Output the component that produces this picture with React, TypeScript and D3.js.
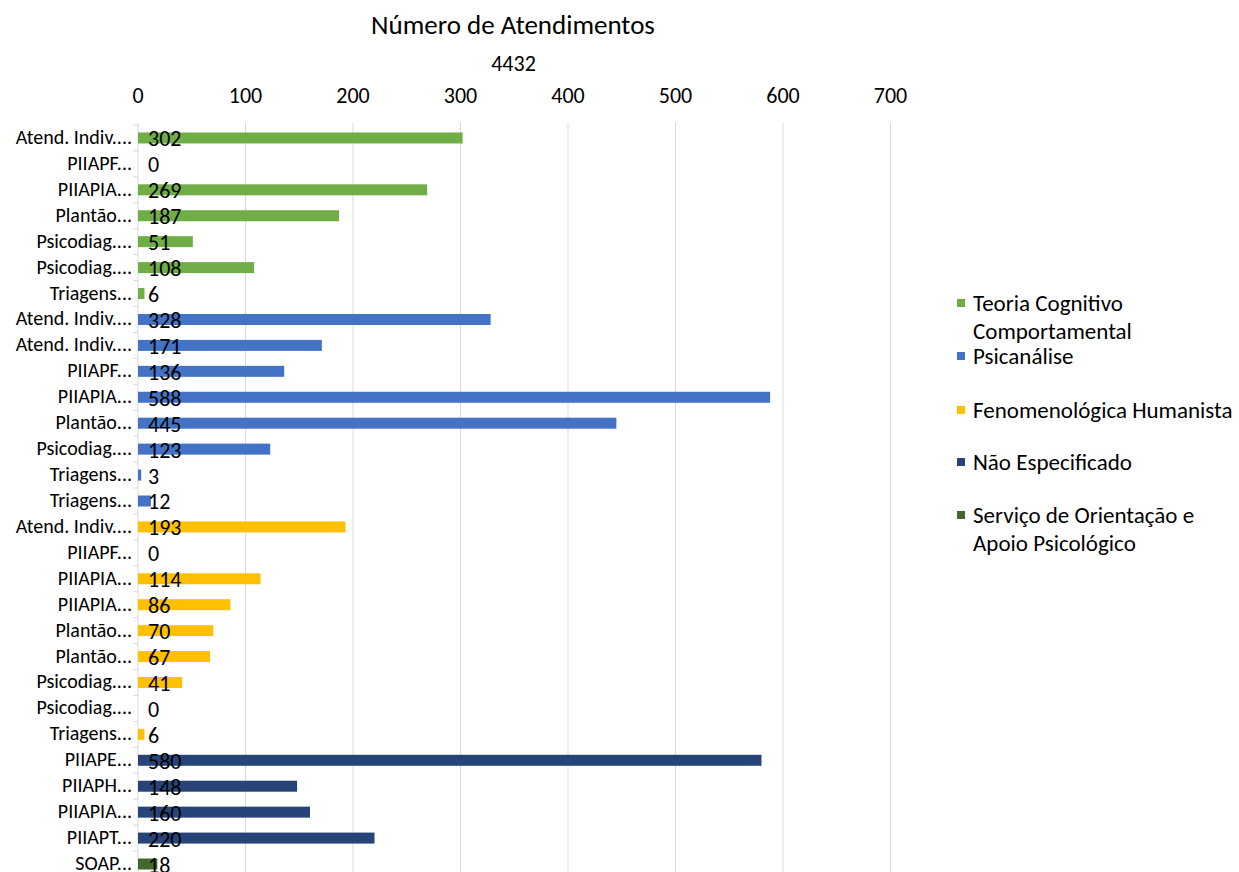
import React from "react";
import * as d3 from "d3";

const seriesNames = [
  "Teoria Cognitivo Comportamental",
  "Psicanálise",
  "Fenomenológica Humanista",
  "Não Especificado",
  "Serviço de Orientação e Apoio Psicológico",
];
const seriesColors = ["#70AD47", "#4472C4", "#FFC000", "#264478", "#43682B"];

const tccCategories = ["Atend. Indiv....", "PIIAPF...", "PIIAPIA...", "Plantão...", "Psicodiag....", "Psicodiag....", "Triagens..."];
const tccValues = [302, 0, 269, 187, 51, 108, 6];
const psiCategories = ["Atend. Indiv....", "Atend. Indiv....", "PIIAPF...", "PIIAPIA...", "Plantão...", "Psicodiag....", "Triagens...", "Triagens..."];
const psiValues = [328, 171, 136, 588, 445, 123, 3, 12];
const fenCategories = ["Atend. Indiv....", "PIIAPF...", "PIIAPIA...", "PIIAPIA...", "Plantão...", "Plantão...", "Psicodiag....", "Psicodiag....", "Triagens..."];
const fenValues = [193, 0, 114, 86, 70, 67, 41, 0, 6];
const naoCategories = ["PIIAPE...", "PIIAPH...", "PIIAPIA...", "PIIAPT..."];
const naoValues = [580, 148, 160, 220];
const soapCategories = ["SOAP..."];
const soapValues = [18];

const xTicks = [0, 100, 200, 300, 400, 500, 600, 700];
const title = "Número de Atendimentos";
const subtitle = "4432";

const legendLines = [
  ["Teoria Cognitivo", "Comportamental"],
  ["Psicanálise"],
  ["Fenomenológica Humanista"],
  ["Não Especificado"],
  ["Serviço de Orientação e", "Apoio Psicológico"],
];

type Row = { key: string; label: string; value: number; s: number };

export default function App() {
  const groups = [
    [tccCategories, tccValues],
    [psiCategories, psiValues],
    [fenCategories, fenValues],
    [naoCategories, naoValues],
    [soapCategories, soapValues],
  ] as [string[], number[]][];
  const rows: Row[] = [];
  groups.forEach(([cats, vals], s) =>
    cats.forEach((c, i) => rows.push({ key: `${s}-${i}`, label: c, value: vals[i], s }))
  );

  const W = 1239, H = 872;
  const font = "Calibri, Carlito, Lato, sans-serif";
  const x = d3.scaleLinear().domain([0, 700]).range([138, 890.5]);
  const y = d3.scaleBand().domain(rows.map((r) => r.key)).range([125, 125 + 25.93 * rows.length]).paddingInner(0).paddingOuter(0);
  const bh = 11;
  const gridTop = 123;
  const gridBottom = 125 + 25.93 * rows.length;

  const legendItemY = [303, 356, 410, 462, 515];

  return (
    <svg width={W} height={H} style={{ position: "absolute", left: 0, top: 0, background: "#fff" }} fontFamily={font}>
      <rect width={W} height={H} fill="#fff" />
      <text x={513} y={34} textAnchor="middle" fontSize={27} fill="#000">{title}</text>
      <text x={513.5} y={71} textAnchor="middle" fontSize={22} fill="#000">{subtitle}</text>
      {xTicks.map((t) => (
        <g key={t}>
          {t > 0 && <line x1={x(t)} x2={x(t)} y1={gridTop} y2={gridBottom} stroke="#D9D9D9" strokeWidth={1} />}
          <text x={x(t)} y={103} textAnchor="middle" fontSize={22} fill="#000">{t}</text>
        </g>
      ))}
      <line x1={x(0)} x2={x(0)} y1={gridTop} y2={gridBottom} stroke="#D9D9D9" strokeWidth={1} />
      {rows.map((r) => (
        <line key={"t" + r.key} x1={x(0) - 5} x2={x(0)} y1={y(r.key) as number} y2={y(r.key) as number} stroke="#D9D9D9" strokeWidth={1} />
      ))}
      {rows.map((r) => {
        const cy = (y(r.key) as number) + y.bandwidth() / 2;
        return (
          <g key={r.key}>
            <rect x={x(0)} y={cy - bh / 2} width={x(r.value) - x(0)} height={bh} fill={seriesColors[r.s]} />
            <text x={132} y={cy + 6} textAnchor="end" fontSize={20} fill="#000">{r.label}</text>
            <text x={148} y={cy + 8.5} fontSize={22} fill="#000">{r.value}</text>
          </g>
        );
      })}
      {legendLines.map((lines, i) => (
        <g key={i}>
          <rect x={957} y={legendItemY[i] - 4} width={8} height={8} fill={seriesColors[i]} />
          {lines.map((l, j) => (
            <text key={j} x={973} y={legendItemY[i] + 7.5 + j * 28} fontSize={23} fill="#000">{l}</text>
          ))}
        </g>
      ))}
    </svg>
  );
}
